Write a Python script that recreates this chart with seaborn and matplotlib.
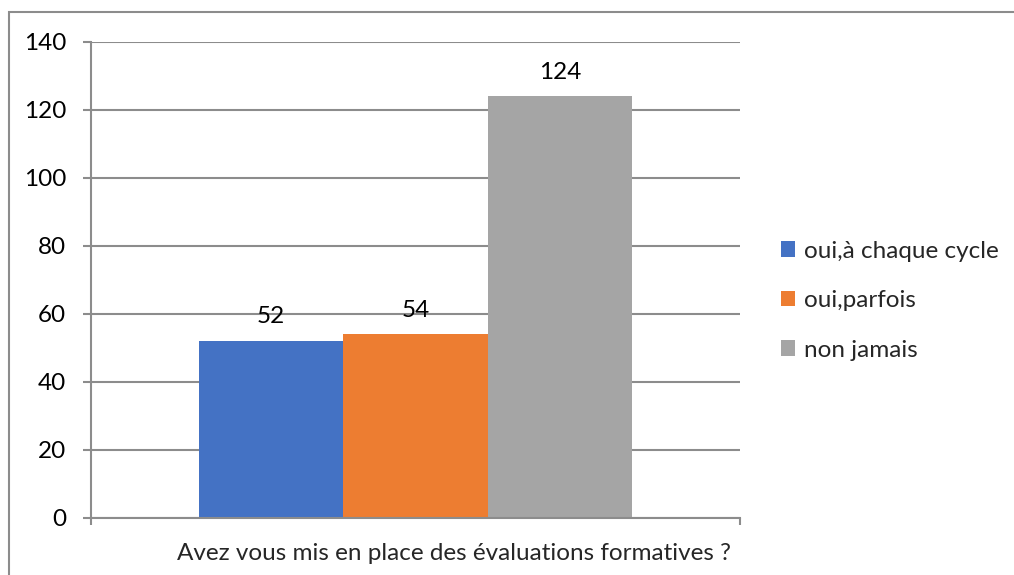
import pandas as pd
import matplotlib.pyplot as plt
import seaborn as sns
from matplotlib.patches import Rectangle, Patch

question = "Avez vous mis en place des évaluations formatives ?"
responses = ['oui,à chaque cycle', 'oui,parfois', 'non jamais']
counts = [52, 54, 124]
colors = ['#4472C4', '#ED7D31', '#A5A5A5']
yticks = [0, 20, 40, 60, 80, 100, 120, 140]

df = pd.DataFrame({'question': [question] * len(responses),
                   'reponse': responses,
                   'nombre': counts})

sns.set_theme(style='white')
plt.rcParams['font.family'] = ['Lato', 'DejaVu Sans']
fs = 17.5

fig = plt.figure(figsize=(10.14, 5.75), dpi=100)
ax = fig.add_axes([91/1014, 1 - 518/575, (740 - 91)/1014, (518 - 42)/575])

grid_col = '#8C8C8C'
sns.barplot(data=df, x='question', y='nombre', hue='reponse', palette=colors,
            hue_order=responses, width=433/649, saturation=1, legend=False,
            linewidth=0, ax=ax)

for cont in ax.containers:
    ax.bar_label(cont, fontsize=fs, color='black', padding=10)

ax.set_xlim(-0.5, 0.5)
ax.set_ylim(0, 140)
ax.set_yticks(yticks)
ax.set_xticks([-0.5, 0.5])
ax.set_xticklabels([])
ax.set_xlabel('')
ax.set_ylabel('')
ax.yaxis.grid(True, color=grid_col, linewidth=1.5)
ax.set_axisbelow(True)
ax.tick_params(axis='y', length=6, width=1.5, color=grid_col, pad=12,
               labelsize=fs, labelcolor='black', left=True)
ax.tick_params(axis='x', length=5, width=1.5, color=grid_col, bottom=True)
for s in ['top', 'right']:
    ax.spines[s].set_visible(False)
for s in ['left', 'bottom']:
    ax.spines[s].set_color(grid_col)
    ax.spines[s].set_linewidth(1.5)

fig.text(454/1014, 1 - 553/575, question, ha='center', va='center', fontsize=fs)

handles = [Patch(facecolor=c, edgecolor='none') for c in colors]
fig.legend(handles, responses, loc='upper left', bbox_to_anchor=(771/1014, 1 - 231/575),
           frameon=False, fontsize=fs, handlelength=0.6, handleheight=0.6,
           handletextpad=0.35, labelspacing=1.17, borderaxespad=0)

fig.patches.append(Rectangle((9/1014, -0.1), 1.0, 1.1 - 12/575, transform=fig.transFigure,
                             fill=False, edgecolor='#8C8C8C', linewidth=1.5, clip_on=False))

fig.savefig('out.png', dpi=100)
